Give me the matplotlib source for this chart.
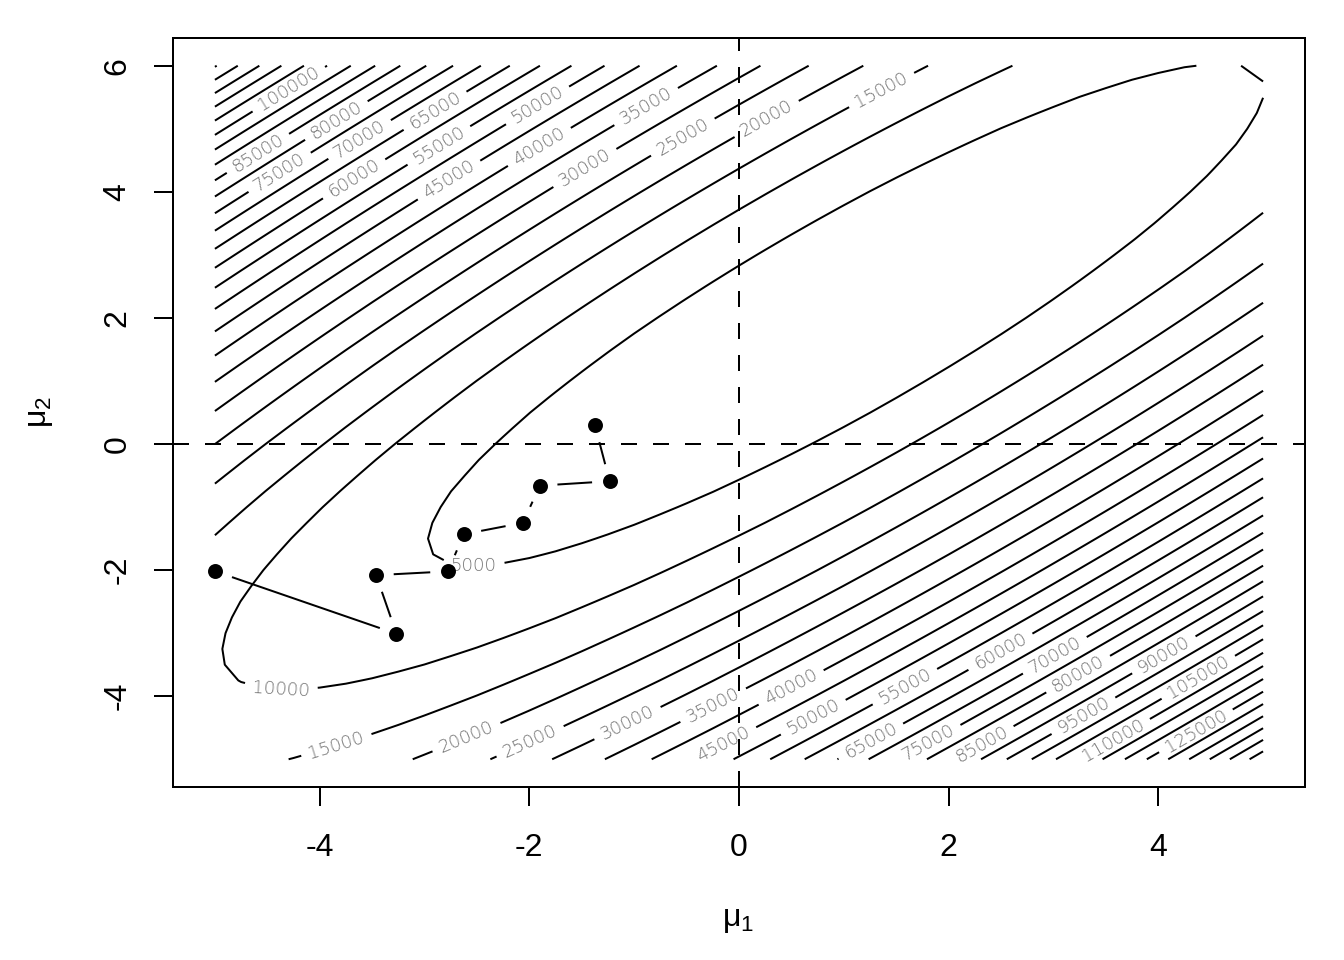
import numpy as np
import matplotlib
matplotlib.use("Agg")
import matplotlib.pyplot as plt

plt.rcParams['font.family'] = ['Liberation Sans', 'DejaVu Sans']
plt.rcParams['mathtext.fontset'] = 'custom'
plt.rcParams['mathtext.rm'] = 'Liberation Sans'
plt.rcParams['mathtext.it'] = 'Liberation Sans:italic'
plt.rcParams['axes.unicode_minus'] = False

# Quadratic surface read from the contour crossings:
# z = q0 + q1*mu1 + q2*mu2 + q11*mu1^2 + q12*mu1*mu2 + q22*mu2^2
q0, q1, q2 = 2874.0, 2153.0, -2982.0
q11, q12, q22 = 1316.0, -2363.0, 1317.0

mu1_limits = (-5.0, 5.0)
mu2_limits = (-5.0, 6.0)
grid_step = 0.25

contour_levels = list(range(5000, 155000, 5000))

# (level, mu1, mu2) of each contour label
label_specs = [
    (100000, -4.27, 5.56), (85000, -4.62, 4.69), (80000, -3.83, 5.10), (75000, -4.39, 4.33),
    (70000, -3.56, 4.67), (65000, -2.85, 5.15), (60000, -3.67, 4.20), (55000, -2.85, 4.70),
    (50000, -1.85, 5.17), (45000, -2.76, 4.17), (40000, -1.90, 4.70), (35000, -0.85, 5.25),
    (30000, -1.46, 4.35), (25000, -0.54, 4.88), (20000, 0.30, 5.05), (15000, 1.34, 5.68),
    (5000, -2.53, -1.91), (10000, -4.37, -3.93), (15000, -3.86, -4.67), (20000, -2.61, -4.61),
    (25000, -2.00, -4.69), (30000, -1.06, -4.44), (35000, -0.25, -4.13), (45000, -0.20, -4.59),
    (40000, 0.51, -3.90), (50000, 0.73, -4.40), (55000, 1.60, -3.90), (60000, 2.52, -3.37),
    (65000, 1.27, -4.75), (70000, 3.03, -3.40), (75000, 1.80, -4.72), (80000, 3.26, -3.72),
    (85000, 2.30, -4.72), (90000, 4.08, -3.42), (95000, 3.30, -4.35), (105000, 4.40, -3.75),
    (110000, 3.57, -4.70), (125000, 4.37, -4.58),
]

# sampler path
chain_mu1 = [-4.996, -3.268, -3.462, -2.778, -2.625, -2.062, -1.90, -1.234, -1.375]
chain_mu2 = [-2.02, -3.01, -2.08, -2.02, -1.43, -1.25, -0.66, -0.59, 0.30]

mu1_grid = np.arange(mu1_limits[0], mu1_limits[1] + 1e-9, grid_step)
mu2_grid = np.arange(mu2_limits[0], mu2_limits[1] + 1e-9, grid_step)
G1, G2 = np.meshgrid(mu1_grid, mu2_grid)
Z = q0 + q1 * G1 + q2 * G2 + q11 * G1**2 + q12 * G1 * G2 + q22 * G2**2

fig = plt.figure(figsize=(7, 5), dpi=192)
ax = fig.add_axes([173 / 1344, 1 - 787 / 960, (1305 - 173) / 1344, (787 - 38) / 960])
ax.set_xlim(-5.4, 5.4)
ax.set_ylim(-5.44, 6.44)

cs = ax.contour(G1, G2, Z, levels=contour_levels, colors='black', linewidths=0.75)


def nearest_on_level(lev, x, y):
    """Point of the given level's contour closest (on screen) to (x, y)."""
    i = contour_levels.index(lev)
    p = ax.transData.transform([(x, y)])[0]
    best = None
    for seg in cs.allsegs[i]:
        if len(seg) < 2:
            continue
        d = ax.transData.transform(seg)
        a, b = d[:-1], d[1:]
        ab = b - a
        t = np.clip(((p - a) * ab).sum(1) / np.maximum((ab ** 2).sum(1), 1e-12), 0, 1)
        proj = a + t[:, None] * ab
        dist = np.hypot(*(proj - p).T)
        k = dist.argmin()
        if best is None or dist[k] < best[0]:
            best = (dist[k], proj[k])
    return tuple(ax.transData.inverted().transform([best[1]])[0])


snapped = [nearest_on_level(lev, lx, ly) for lev, lx, ly in label_specs]
with plt.rc_context({'font.family': 'DejaVu Sans', 'font.weight': 'light'}):
    ax.clabel(cs, contour_levels, manual=snapped, inline=True, fmt='%d',
              fontsize=6.8, colors='#727272', inline_spacing=8)

ax.axhline(0, color='black', lw=0.75, ls=(0, (8, 8)))
ax.axvline(0, color='black', lw=0.75, ls=(0, (8, 8)))

ax.plot(chain_mu1, chain_mu2, 'o', ms=4.6, color='black', zorder=5)
pts = ax.transData.transform(np.column_stack([chain_mu1, chain_mu2]))
inv = ax.transData.inverted()
gap = 18.6
for p, q in zip(pts[:-1], pts[1:]):
    d = q - p
    n = np.hypot(*d)
    if n > 2 * gap:
        u = d / n
        seg = inv.transform(np.array([p + u * gap, q - u * gap]))
        ax.plot(seg[:, 0], seg[:, 1], color='black', lw=0.75, zorder=5)

ax.set_xticks([-4, -2, 0, 2, 4])
ax.set_yticks([-4, -2, 0, 2, 4, 6])
ax.tick_params(direction='out', length=7.2, width=0.75, labelsize=12, pad=10)
ax.tick_params(axis='y', labelrotation=90, pad=8)
for lbl in ax.get_yticklabels():
    lbl.set_va('center')
for s in ax.spines.values():
    s.set_linewidth(0.75)

fig.text(738 / 1344, 1 - 920 / 960, r'$\mathrm{\mu}_1$', ha='center', va='center', fontsize=12)
fig.text(40 / 1344, 1 - 412 / 960, r'$\mathrm{\mu}_2$', ha='center', va='center', fontsize=12, rotation=90)

fig.savefig('out.png', dpi=192)
